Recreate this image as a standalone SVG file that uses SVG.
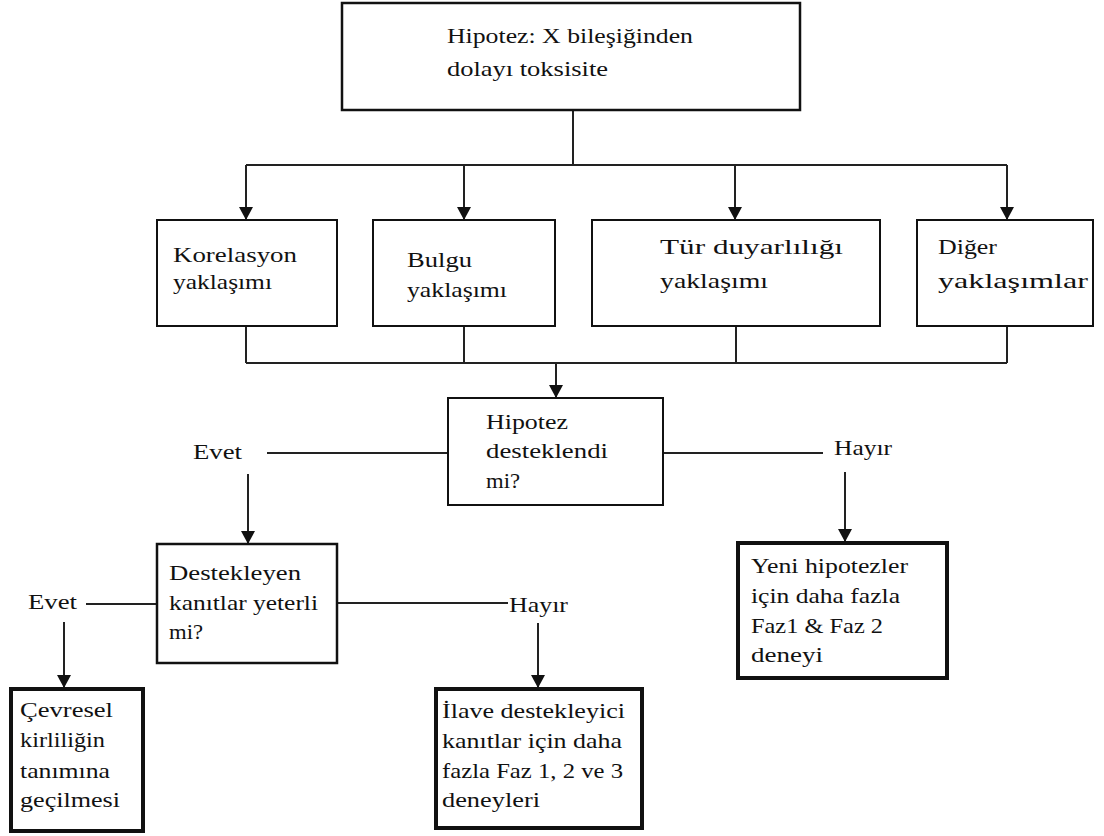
<svg xmlns="http://www.w3.org/2000/svg" width="1104" height="836" viewBox="0 0 1104 836">
  <defs>
    <marker id="arrow" markerUnits="userSpaceOnUse" markerWidth="14" markerHeight="14" refX="13" refY="7" orient="auto">
      <path d="M0,0 L13,7 L0,14 z" fill="#111"/>
    </marker>
    <style>
      .box { fill: #fff; stroke: #111; stroke-width: 2; }
      .top { stroke-width: 2.5; }
      .heavy { stroke-width: 4; }
      .conn { fill: none; stroke: #222; stroke-width: 2; }
      .arr { marker-end: url(#arrow); }
      text { font-family: "Liberation Serif", "Times New Roman", serif; font-size: 22px; fill: #111; }
    </style>
  </defs>
  <rect width="1104" height="836" fill="#fff"/>

  <!-- connectors -->
  <g id="connectors">
    <path class="conn" d="M573,110 V165 M246,165 H1007"/>
    <path class="conn arr" d="M246,165 V220"/>
    <path class="conn arr" d="M464,165 V220"/>
    <path class="conn arr" d="M735,165 V220"/>
    <path class="conn arr" d="M1007,165 V220"/>
    <path class="conn" d="M246,326 V363 M464,326 V363 M736,326 V363 M1007,326 V363 M246,363 H1007"/>
    <path class="conn arr" d="M556,363 V398"/>
    <path class="conn" d="M267,453 H448 M663,453 H823"/>
    <path class="conn arr" d="M248,474 V544"/>
    <path class="conn arr" d="M845,472 V542"/>
    <path class="conn" d="M86,604 H157 M337,603 H508"/>
    <path class="conn arr" d="M64,622 V688"/>
    <path class="conn arr" d="M538,623 V688"/>
  </g>

  <!-- edge labels -->
  <g id="labels">
    <text x="193" y="459" textLength="49" lengthAdjust="spacingAndGlyphs">Evet</text>
    <text x="834" y="455" textLength="58" lengthAdjust="spacingAndGlyphs">Hayır</text>
    <text x="28" y="609" textLength="49" lengthAdjust="spacingAndGlyphs">Evet</text>
    <text x="509" y="612" textLength="59" lengthAdjust="spacingAndGlyphs">Hayır</text>
  </g>

  <g id="hypothesis">
    <rect class="box top" x="342" y="3" width="458" height="107"/>
    <text x="447" y="43" textLength="246" lengthAdjust="spacingAndGlyphs">Hipotez: X bileşiğinden</text>
    <text x="447" y="76" textLength="161" lengthAdjust="spacingAndGlyphs">dolayı toksisite</text>
  </g>

  <g id="correlation">
    <rect class="box" x="157" y="220" width="180" height="106"/>
    <text x="173" y="262" textLength="124" lengthAdjust="spacingAndGlyphs">Korelasyon</text>
    <text x="173" y="289" textLength="99" lengthAdjust="spacingAndGlyphs">yaklaşımı</text>
  </g>

  <g id="finding">
    <rect class="box" x="373" y="220" width="182" height="106"/>
    <text x="407" y="267" textLength="65" lengthAdjust="spacingAndGlyphs">Bulgu</text>
    <text x="407" y="297" textLength="100" lengthAdjust="spacingAndGlyphs">yaklaşımı</text>
  </g>

  <g id="species">
    <rect class="box" x="592" y="220" width="288" height="106"/>
    <text x="660" y="254" textLength="183" lengthAdjust="spacingAndGlyphs">Tür duyarlılığı</text>
    <text x="660" y="288" textLength="108" lengthAdjust="spacingAndGlyphs">yaklaşımı</text>
  </g>

  <g id="other">
    <rect class="box" x="917" y="220" width="176" height="106"/>
    <text x="938" y="254" textLength="59" lengthAdjust="spacingAndGlyphs">Diğer</text>
    <text x="938" y="288" textLength="150" lengthAdjust="spacingAndGlyphs">yaklaşımlar</text>
  </g>

  <g id="supported">
    <rect class="box" x="448" y="398" width="215" height="107"/>
    <text x="486" y="429" textLength="82" lengthAdjust="spacingAndGlyphs">Hipotez</text>
    <text x="486" y="458" textLength="122" lengthAdjust="spacingAndGlyphs">desteklendi</text>
    <text x="486" y="488" textLength="34" lengthAdjust="spacingAndGlyphs">mi?</text>
  </g>

  <g id="sufficient">
    <rect class="box top" x="157" y="544" width="180" height="119"/>
    <text x="169" y="580" textLength="132" lengthAdjust="spacingAndGlyphs">Destekleyen</text>
    <text x="169" y="610" textLength="149" lengthAdjust="spacingAndGlyphs">kanıtlar yeterli</text>
    <text x="169" y="639" textLength="34" lengthAdjust="spacingAndGlyphs">mi?</text>
  </g>

  <g id="new-hypotheses">
    <rect class="box heavy" x="738" y="543" width="209" height="135"/>
    <text x="751" y="573" textLength="157" lengthAdjust="spacingAndGlyphs">Yeni hipotezler</text>
    <text x="751" y="603" textLength="149" lengthAdjust="spacingAndGlyphs">için daha fazla</text>
    <text x="751" y="633" textLength="132" lengthAdjust="spacingAndGlyphs">Faz1 &amp; Faz 2</text>
    <text x="751" y="662" textLength="72" lengthAdjust="spacingAndGlyphs">deneyi</text>
  </g>

  <g id="pollution">
    <rect class="box heavy" x="11" y="689" width="132" height="142"/>
    <text x="20" y="717" textLength="93" lengthAdjust="spacingAndGlyphs">Çevresel</text>
    <text x="20" y="747" textLength="85" lengthAdjust="spacingAndGlyphs">kirliliğin</text>
    <text x="20" y="778" textLength="90" lengthAdjust="spacingAndGlyphs">tanımına</text>
    <text x="20" y="807" textLength="100" lengthAdjust="spacingAndGlyphs">geçilmesi</text>
  </g>

  <g id="additional">
    <rect class="box heavy" x="436" y="689" width="206" height="139"/>
    <text x="442" y="718" textLength="183" lengthAdjust="spacingAndGlyphs">İlave destekleyici</text>
    <text x="442" y="748" textLength="180" lengthAdjust="spacingAndGlyphs">kanıtlar için daha</text>
    <text x="442" y="778" textLength="181" lengthAdjust="spacingAndGlyphs">fazla Faz 1, 2 ve 3</text>
    <text x="442" y="807" textLength="98" lengthAdjust="spacingAndGlyphs">deneyleri</text>
  </g>
</svg>
